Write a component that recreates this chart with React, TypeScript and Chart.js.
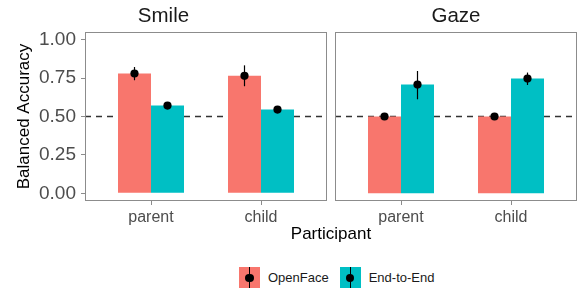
import React, { useEffect, useRef } from 'react';
import { Chart, registerables } from 'chart.js';

Chart.register(...registerables);

const participants = ['parent', 'child'];
const methods = ['OpenFace', 'End-to-End'];
const methodColors = ['#F8766D', '#00BFC4'];
const yTickValues = [0, 0.25, 0.5, 0.75, 1.0];
const chanceLevel = 0.5;

const smileOpenFace = [0.78, 0.765];
const smileOpenFaceLo = [0.736, 0.697];
const smileOpenFaceHi = [0.822, 0.833];
const smileEndToEnd = [0.571, 0.545];
const smileEndToEndLo = [0.563, 0.538];
const smileEndToEndHi = [0.58, 0.553];

const gazeOpenFace = [0.5, 0.5];
const gazeOpenFaceLo = [0.496, 0.496];
const gazeOpenFaceHi = [0.504, 0.504];
const gazeEndToEnd = [0.708, 0.747];
const gazeEndToEndLo = [0.612, 0.705];
const gazeEndToEndHi = [0.796, 0.786];

const FONT = "'Liberation Sans', Arial, Helvetica, sans-serif";

function makeConfig(
  title: string,
  values: number[][],
  lo: number[][],
  hi: number[][],
  showY: boolean,
  padLeft: number,
  padRight: number
): any {
  const refLine = {
    id: 'refLine',
    beforeDatasetsDraw(chart: any) {
      const { ctx, chartArea } = chart;
      const y = chart.scales.y.getPixelForValue(chanceLevel);
      ctx.save();
      ctx.strokeStyle = '#333333';
      ctx.lineWidth = 1.4;
      ctx.setLineDash([6, 5]);
      ctx.beginPath();
      ctx.moveTo(chartArea.left, y);
      ctx.lineTo(chartArea.right, y);
      ctx.stroke();
      ctx.restore();
    },
  };
  const errorBars = {
    id: 'errorBars',
    afterDatasetsDraw(chart: any) {
      const { ctx } = chart;
      const ys = chart.scales.y;
      ctx.save();
      chart.data.datasets.forEach((_: any, di: number) => {
        const meta = chart.getDatasetMeta(di);
        meta.data.forEach((el: any, i: number) => {
          const x = el.x;
          ctx.strokeStyle = '#000';
          ctx.lineWidth = 1.2;
          ctx.beginPath();
          ctx.moveTo(x, ys.getPixelForValue(lo[di][i]));
          ctx.lineTo(x, ys.getPixelForValue(hi[di][i]));
          ctx.stroke();
          ctx.fillStyle = '#000';
          ctx.beginPath();
          ctx.arc(x, ys.getPixelForValue(values[di][i]), 4.1, 0, Math.PI * 2);
          ctx.fill();
        });
      });
      ctx.restore();
    },
  };
  const border = {
    id: 'panelBorder',
    afterDraw(chart: any) {
      const { ctx, chartArea } = chart;
      ctx.save();
      ctx.strokeStyle = '#8c8c8c';
      ctx.lineWidth = 1;
      const l = Math.round(chartArea.left) + 0.5;
      const t = Math.round(chartArea.top) + 0.5;
      const r = Math.round(chartArea.right) - 0.5;
      const b = Math.round(chartArea.bottom) - 0.5;
      ctx.strokeRect(l, t, r - l, b - t);
      ctx.restore();
    },
  };

  return {
    type: 'bar',
    data: {
      datasets: methods.map((m, di) => ({
        label: m,
        data: participants.map((_, i) => ({ x: i + 1, y: values[di][i] })),
        backgroundColor: methodColors[di],
        borderWidth: 0,
        barPercentage: 1,
        categoryPercentage: 0.6,
      })),
    },
    options: {
      responsive: false,
      animation: false,
      layout: { padding: { left: padLeft, right: padRight, top: 0, bottom: 0 } },
      plugins: {
        legend: { display: false },
        tooltip: { enabled: false },
        title: {
          display: true,
          text: title,
          color: '#1a1a1a',
          font: { family: FONT, size: 20.5, weight: 'normal' },
          padding: { top: 4, bottom: 3.4 },
        },
      },
      scales: {
        x: {
          type: 'linear',
          min: 0.4,
          max: 2.6,
          offset: false,
          afterBuildTicks(s: any) {
            s.ticks = participants.map((_, i) => ({ value: i + 1 }));
          },
          afterFit(s: any) {
            s.height = 25;
          },
          ticks: {
            autoSkip: false,
            maxRotation: 0,
            padding: 3,
            color: '#4d4d4d',
            font: { family: FONT, size: 16 },
            callback: (v: number) => participants[Math.round(v) - 1] ?? '',
          },
          grid: {
            display: true,
            offset: false,
            drawOnChartArea: false,
            drawTicks: true,
            tickLength: 4,
            color: '#8c8c8c',
          },
          border: { display: false },
        },
        y: {
          type: 'linear',
          display: showY,
          min: -0.05,
          max: 1.05,
          afterBuildTicks(s: any) {
            s.ticks = yTickValues.map((v) => ({ value: v }));
          },
          afterFit(s: any) {
            if (showY) s.width = 85;
          },
          ticks: {
            padding: 5,
            color: '#4d4d4d',
            font: { family: FONT, size: 19 },
            callback: (v: number) => Number(v).toFixed(2),
          },
          grid: {
            display: true,
            offset: false,
            drawOnChartArea: false,
            drawTicks: true,
            tickLength: 4,
            color: '#8c8c8c',
          },
          border: { display: false },
          title: {
            display: true,
            text: 'Balanced Accuracy',
            color: '#000',
            font: { family: FONT, size: 17 },
            padding: { top: 14, bottom: 0 },
          },
        },
      },
    },
    plugins: [refLine, errorBars, border],
  };
}

function LegendKey({ color, label }: { color: string; label: string }) {
  return (
    <div style={{ display: 'flex', alignItems: 'center' }}>
      <div style={{ position: 'relative', width: 21, height: 21, background: color }}>
        <div style={{ position: 'absolute', left: 10, top: 0, width: 1.2, height: 21, background: '#000' }} />
        <div
          style={{
            position: 'absolute',
            left: 6.2,
            top: 6.5,
            width: 8.6,
            height: 8.6,
            borderRadius: '50%',
            background: '#000',
          }}
        />
      </div>
      <span style={{ marginLeft: 8, fontSize: 13, color: '#1a1a1a', fontFamily: FONT }}>{label}</span>
    </div>
  );
}

export default function App() {
  const leftRef = useRef<HTMLCanvasElement>(null);
  const rightRef = useRef<HTMLCanvasElement>(null);

  useEffect(() => {
    const left = new Chart(
      leftRef.current as HTMLCanvasElement,
      makeConfig(
        'Smile',
        [smileOpenFace, smileEndToEnd],
        [smileOpenFaceLo, smileEndToEndLo],
        [smileOpenFaceHi, smileEndToEndHi],
        true,
        0,
        3
      )
    );
    const right = new Chart(
      rightRef.current as HTMLCanvasElement,
      makeConfig(
        'Gaze',
        [gazeOpenFace, gazeEndToEnd],
        [gazeOpenFaceLo, gazeEndToEndLo],
        [gazeOpenFaceHi, gazeEndToEndHi],
        false,
        3,
        1
      )
    );
    return () => {
      left.destroy();
      right.destroy();
    };
  }, []);

  return (
    <div
      style={{
        position: 'absolute',
        left: 0,
        top: 0,
        width: 578,
        height: 291,
        background: '#fff',
        overflow: 'hidden',
        fontFamily: FONT,
      }}
    >
      <canvas ref={leftRef} width={330} height={226} style={{ position: 'absolute', left: 0, top: 0 }} />
      <canvas ref={rightRef} width={246} height={226} style={{ position: 'absolute', left: 332, top: 0 }} />
      <div
        style={{
          position: 'absolute',
          left: 85,
          width: 492,
          top: 224,
          textAlign: 'center',
          fontSize: 17,
          color: '#000',
          lineHeight: '20px',
        }}
      >
        Participant
      </div>
      <div style={{ position: 'absolute', left: 239, top: 267, display: 'flex', gap: 11 }}>
        {methods.map((m, i) => (
          <LegendKey key={m} color={methodColors[i]} label={m} />
        ))}
      </div>
    </div>
  );
}
